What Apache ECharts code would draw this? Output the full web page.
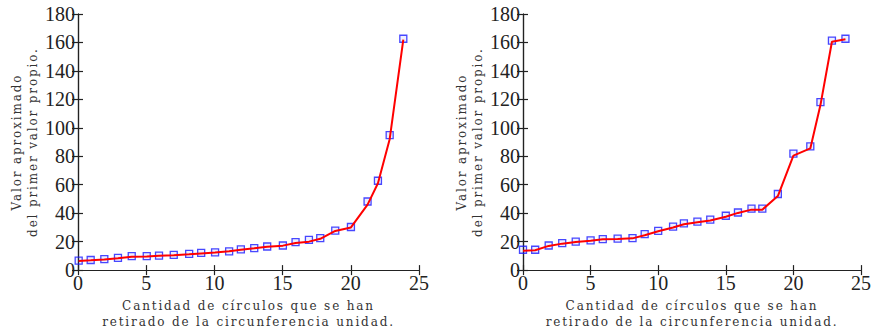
<!DOCTYPE html>
<html><head><meta charset="utf-8">
<script src="https://cdn.jsdelivr.net/npm/echarts@6/dist/echarts.min.js"></script>
<style>html,body{margin:0;padding:0;background:#fff}#c{width:874px;height:335px}</style>
</head><body><div id="c"></div>
<script>
const xTicks = [0, 5, 10, 15, 20, 25];
const yTicks = [0, 20, 40, 60, 80, 100, 120, 140, 160, 180];
const leftX = [0.05,0.93,1.93,2.93,3.94,5.04,5.94,7.02,8.15,9.03,10.05,11.08,11.94,12.92,13.87,15.02,15.95,16.93,17.76,18.86,20.01,21.23,21.99,22.85,23.85];
const leftMarkerY = [6.6,7.1,7.7,8.6,9.8,9.8,10.2,10.7,11.4,12.1,12.5,13.2,14.6,15.5,16.6,17.3,19.6,21.2,22.5,27.8,30.3,48.2,62.8,94.9,162.6];
const leftLineY = [6.4,6.9,7.5,8.4,9.4,9.6,10.0,10.5,11.1,11.7,12.3,13.2,14.3,15.3,16.4,17.2,19.0,20.0,22.0,27.5,30.0,46,61,92,162];
const rightX = [0.0,0.9,1.9,2.9,3.9,5.0,5.9,7.0,8.1,9.0,10.0,11.1,11.9,12.9,13.85,15.0,15.9,16.9,17.7,18.85,20.0,21.25,22.0,22.85,23.85];
const rightMarkerY = [14.3,14.3,17.3,18.9,20.0,20.9,21.8,22.1,22.5,25.3,27.5,30.5,32.8,34.1,35.5,38.2,40.5,43.2,43.2,53.5,81.9,86.9,118.1,161.3,162.6];
const rightLineY = [13.6,14.0,17.0,18.6,19.8,20.6,21.6,21.9,22.3,24.5,27.3,30.0,32.2,33.6,34.8,37.5,40.2,42.5,42.5,52,80.5,85.5,116,160.5,162.2];
const xNameLines = ['Cantidad de círculos que se han', 'retirado de la circunferencia unidad.'];
const yNameLines = ['Valor aproximado', 'del primer valor propio.'];

const zip = (a, b) => a.map((v, i) => [v, b[i]]);
const tickFont = {fontFamily: 'Liberation Serif', fontSize: 20, color: '#222'};
const nameFont = {fontFamily: 'DejaVu Serif', fontSize: 12, color: '#333', lineHeight: 16};
const lineStyleAxis = {color: '#222', width: 1.2};

const grids = [
  {left: 78, top: 14, width: 341, height: 264},
  {left: 523, top: 14, width: 340, height: 264}
];
const xAxes = [], yAxes = [], series = [];
const panels = [[leftX, leftMarkerY, leftLineY], [rightX, rightMarkerY, rightLineY]];
grids.forEach((g, gi) => {
  xAxes.push({type: 'value', gridIndex: gi, min: xTicks[0], max: xTicks[xTicks.length-1], interval: 5,
    position: 'bottom', name: xNameLines.join('\n'), nameLocation: 'middle', nameGap: 24, nameTextStyle: nameFont,
    axisLine: {show: true, lineStyle: lineStyleAxis}, axisTick: {show: true, inside: true, length: 5, lineStyle: lineStyleAxis},
    axisLabel: Object.assign({margin: 3}, tickFont), splitLine: {show: false}});
  xAxes.push({type: 'value', gridIndex: gi, min: xTicks[0], max: xTicks[xTicks.length-1], interval: 5,
    position: 'top', axisLine: {show: true, lineStyle: lineStyleAxis}, axisTick: {show: true, inside: true, length: 5, lineStyle: lineStyleAxis},
    axisLabel: {show: false}, splitLine: {show: false}});
  yAxes.push({type: 'value', gridIndex: gi, min: yTicks[0], max: yTicks[yTicks.length-1], interval: 20,
    position: 'left', name: yNameLines.join('\n'), nameLocation: 'middle', nameGap: 36, nameTextStyle: nameFont,
    axisLine: {show: true, lineStyle: lineStyleAxis}, axisTick: {show: true, inside: true, length: 5, lineStyle: lineStyleAxis},
    axisLabel: Object.assign({margin: 3}, tickFont), splitLine: {show: false}});
  yAxes.push({type: 'value', gridIndex: gi, min: yTicks[0], max: yTicks[yTicks.length-1], interval: 20,
    position: 'right', axisLine: {show: true, lineStyle: lineStyleAxis}, axisTick: {show: true, inside: true, length: 6, lineStyle: lineStyleAxis},
    axisLabel: {show: false}, splitLine: {show: false}});
  const [xs, my, ly] = panels[gi];
  series.push({type: 'scatter', xAxisIndex: gi*2, yAxisIndex: gi*2, data: zip(xs, my), symbol: 'rect', symbolSize: 7,
    itemStyle: {color: 'rgba(0,0,255,0.08)', borderColor: '#1a1aff', borderWidth: 1.3}, z: 2, animation: false});
  series.push({type: 'line', xAxisIndex: gi*2, yAxisIndex: gi*2, data: zip(xs, ly), showSymbol: false, symbol: 'none',
    lineStyle: {color: '#ff0000', width: 2}, z: 3, animation: false});
});

const chart = echarts.init(document.getElementById('c'), null, {renderer: 'svg'});
chart.setOption({animation: false, grid: grids, xAxis: xAxes, yAxis: yAxes, series: series});

function spaceNames() {
  const names = xNameLines.concat(yNameLines);
  document.querySelectorAll('#c svg text').forEach(t => {
    if (names.indexOf(t.textContent) >= 0) t.setAttribute('letter-spacing', '1.85');
  });
}
spaceNames();
chart.on('finished', spaceNames);
</script></body></html>
